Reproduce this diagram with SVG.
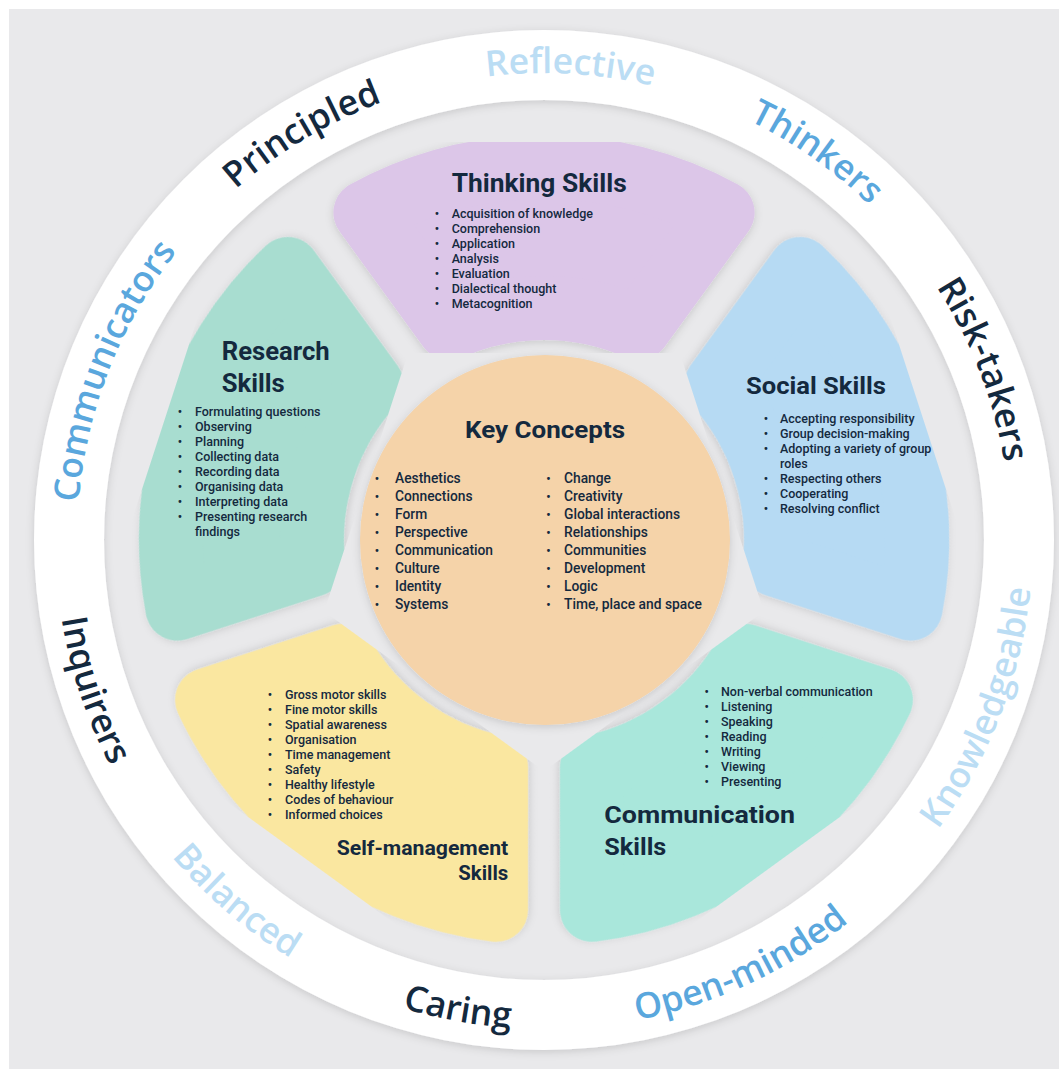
<svg xmlns="http://www.w3.org/2000/svg" width="1059" height="1069" viewBox="0 0 1059 1069">
<defs>
<style>
.tx{font-family:Roboto,"Liberation Sans",sans-serif;fill:#14293E}
.hd{font-weight:700}
.li{font-weight:500;font-size:12.5px}
.kc{font-weight:500;font-size:13.8px}
.bu{font-weight:700;font-size:12px;text-anchor:middle}
.rw{font-family:"Open Sans","Liberation Sans",sans-serif;font-weight:600;font-size:35.5px}
.dark{fill:#14293E}.mid{fill:#5AA7DD}.light{fill:#BBDDF4}
</style>
<filter id="sh" x="-15%" y="-15%" width="130%" height="130%"><feDropShadow dx="0" dy="2" stdDeviation="4" flood-color="#000" flood-opacity="0.14"/></filter>
<path id="petal" d="M449.4 328.15 L365.4 212.54 A373 373 0 0 1 722.6 212.54 L638.6 328.15 A232 232 0 0 0 449.4 328.15 Z" stroke-width="64" stroke-linejoin="round"/>
<path id="topArc" d="M105.2 380.3 A467 467 0 0 1 982.8 380.3" fill="none"/>
<path id="botArc" d="M84.5 707.2 A489 489 0 0 0 1003.5 707.2" fill="none"/>
</defs>
<g id="background">
<rect width="1059" height="1069" fill="#fff"/>
<rect x="9" y="9" width="1050" height="1060" fill="#E9E9EB"/>
</g>
<g id="ring">
<path fill="#fff" fill-rule="evenodd" filter="url(#sh)" d="M34 540 a510 510 0 1 0 1020 0 a510 510 0 1 0 -1020 0 Z M104 540 a440 440 0 1 0 880 0 a440 440 0 1 0 -880 0 Z"/>
</g>
<g id="ring-words" class="rw">
<text class="light" text-anchor="middle" transform="rotate(3.2 544 540)"><textPath href="#topArc" startOffset="50%">Reflective</textPath></text>
<text class="mid" text-anchor="middle" transform="rotate(35.1 544 540)"><textPath href="#topArc" startOffset="50%">Thinkers</textPath></text>
<text class="dark" text-anchor="middle" transform="rotate(68.8 544 540)"><textPath href="#topArc" startOffset="50%">Risk-takers</textPath></text>
<text class="mid" text-anchor="middle" transform="rotate(-68.6 544 540)"><textPath href="#topArc" startOffset="50%">Communicators</textPath></text>
<text class="dark" text-anchor="middle" transform="rotate(-30.8 544 540)"><textPath href="#topArc" startOffset="50%">Principled</textPath></text>
<text class="light" text-anchor="middle" transform="rotate(-69 544 540)"><textPath href="#botArc" startOffset="50%">Knowledgeable</textPath></text>
<text class="mid" text-anchor="middle" transform="rotate(-24.8 544 540)"><textPath href="#botArc" startOffset="50%">Open-minded</textPath></text>
<text class="dark" text-anchor="middle" transform="rotate(10.4 544 540)"><textPath href="#botArc" startOffset="50%">Caring</textPath></text>
<text class="light" text-anchor="middle" transform="rotate(40.4 544 540)"><textPath href="#botArc" startOffset="50%">Balanced</textPath></text>
<text class="dark" text-anchor="middle" transform="rotate(71.6 544 540)"><textPath href="#botArc" startOffset="50%">Inquirers</textPath></text>
</g>
<g id="connectors"/>
<g id="key-concepts">
<circle cx="545" cy="540" r="185" fill="#F5D3A9" filter="url(#sh)"/>
<text class="tx hd" x="465" y="438" font-size="23" textLength="160" lengthAdjust="spacingAndGlyphs">Key Concepts</text>
<g class="tx bu">
<text x="377" y="482.7">•</text><text x="377" y="500.7">•</text><text x="377" y="518.7">•</text><text x="377" y="536.7">•</text><text x="377" y="554.7">•</text><text x="377" y="572.7">•</text><text x="377" y="590.7">•</text><text x="377" y="608.7">•</text>
<text x="548.3" y="482.7">•</text><text x="548.3" y="500.7">•</text><text x="548.3" y="518.7">•</text><text x="548.3" y="536.7">•</text><text x="548.3" y="554.7">•</text><text x="548.3" y="572.7">•</text><text x="548.3" y="590.7">•</text><text x="548.3" y="608.7">•</text>
</g>
<g class="tx kc">
<text x="395" y="482.7">Aesthetics</text><text x="395" y="500.7">Connections</text><text x="395" y="518.7">Form</text><text x="395" y="536.7">Perspective</text><text x="395" y="554.7">Communication</text><text x="395" y="572.7">Culture</text><text x="395" y="590.7">Identity</text><text x="395" y="608.7">Systems</text>
<text x="564" y="482.7">Change</text><text x="564" y="500.7">Creativity</text><text x="564" y="518.7">Global interactions</text><text x="564" y="536.7">Relationships</text><text x="564" y="554.7">Communities</text><text x="564" y="572.7">Development</text><text x="564" y="590.7">Logic</text><text x="564" y="608.7">Time, place and space</text>
</g>
</g>
<g id="thinking-skills">
<use href="#petal" fill="#DCC6E8" stroke="#DCC6E8" filter="url(#sh)"/>
<text class="tx hd" x="451.7" y="192" font-size="25.5" textLength="175" lengthAdjust="spacingAndGlyphs">Thinking Skills</text>
<g class="tx bu">
<text x="437" y="218.3">•</text><text x="437" y="233.3">•</text><text x="437" y="248.3">•</text><text x="437" y="263.3">•</text><text x="437" y="278.3">•</text><text x="437" y="293.3">•</text><text x="437" y="308.3">•</text>
</g>
<g class="tx li">
<text x="451.7" y="218.3">Acquisition of knowledge</text><text x="451.7" y="233.3">Comprehension</text><text x="451.7" y="248.3">Application</text><text x="451.7" y="263.3">Analysis</text><text x="451.7" y="278.3">Evaluation</text><text x="451.7" y="293.3">Dialectical thought</text><text x="451.7" y="308.3">Metacognition</text>
</g>
</g>
<g id="social-skills">
<use href="#petal" fill="#B6DAF3" stroke="#B6DAF3" filter="url(#sh)" transform="rotate(72 544 540)"/>
<text class="tx hd" x="746" y="394" font-size="24.5" textLength="140" lengthAdjust="spacingAndGlyphs">Social Skills</text>
<g class="tx bu">
<text x="766" y="422.7">•</text><text x="766" y="437.7">•</text><text x="766" y="452.7">•</text><text x="766" y="482.7">•</text><text x="766" y="497.7">•</text><text x="766" y="512.7">•</text>
</g>
<g class="tx li">
<text x="780" y="422.7">Accepting responsibility</text><text x="780" y="437.7">Group decision-making</text><text x="780" y="452.7">Adopting a variety of group</text><text x="780" y="467.7">roles</text><text x="780" y="482.7">Respecting others</text><text x="780" y="497.7">Cooperating</text><text x="780" y="512.7">Resolving conflict</text>
</g>
</g>
<g id="communication-skills">
<use href="#petal" fill="#A9E7DB" stroke="#A9E7DB" filter="url(#sh)" transform="rotate(144 544 540)"/>
<g class="tx bu">
<text x="706.7" y="696">•</text><text x="706.7" y="711">•</text><text x="706.7" y="726">•</text><text x="706.7" y="741">•</text><text x="706.7" y="756">•</text><text x="706.7" y="771">•</text><text x="706.7" y="786">•</text>
</g>
<g class="tx li">
<text x="721" y="696">Non-verbal communication</text><text x="721" y="711">Listening</text><text x="721" y="726">Speaking</text><text x="721" y="741">Reading</text><text x="721" y="756">Writing</text><text x="721" y="771">Viewing</text><text x="721" y="786">Presenting</text>
</g>
<text class="tx hd" x="604.3" y="823" font-size="24" textLength="190.7" lengthAdjust="spacingAndGlyphs">Communication</text>
<text class="tx hd" x="604.3" y="855" font-size="24" textLength="62" lengthAdjust="spacingAndGlyphs">Skills</text>
</g>
<g id="self-management-skills">
<use href="#petal" fill="#FAE7A0" stroke="#FAE7A0" filter="url(#sh)" transform="rotate(216 544 540)"/>
<g class="tx bu">
<text x="270" y="699">•</text><text x="270" y="714">•</text><text x="270" y="729">•</text><text x="270" y="744">•</text><text x="270" y="759">•</text><text x="270" y="774">•</text><text x="270" y="789">•</text><text x="270" y="804">•</text><text x="270" y="819">•</text>
</g>
<g class="tx li">
<text x="285" y="699">Gross motor skills</text><text x="285" y="714">Fine motor skills</text><text x="285" y="729">Spatial awareness</text><text x="285" y="744">Organisation</text><text x="285" y="759">Time management</text><text x="285" y="774">Safety</text><text x="285" y="789">Healthy lifestyle</text><text x="285" y="804">Codes of behaviour</text><text x="285" y="819">Informed choices</text>
</g>
<text class="tx hd" x="336.7" y="855" font-size="21" textLength="171.6" lengthAdjust="spacingAndGlyphs">Self-management</text>
<text class="tx hd" x="458.3" y="880" font-size="21" textLength="50" lengthAdjust="spacingAndGlyphs">Skills</text>
</g>
<g id="research-skills">
<use href="#petal" fill="#A8DDD0" stroke="#A8DDD0" filter="url(#sh)" transform="rotate(288 544 540)"/>
<text class="tx hd" x="221.7" y="360" font-size="25.5" textLength="108" lengthAdjust="spacingAndGlyphs">Research</text>
<text class="tx hd" x="221.7" y="392" font-size="25.5" textLength="63" lengthAdjust="spacingAndGlyphs">Skills</text>
<g class="tx bu">
<text x="180" y="416">•</text><text x="180" y="431">•</text><text x="180" y="446">•</text><text x="180" y="461">•</text><text x="180" y="476">•</text><text x="180" y="491">•</text><text x="180" y="506">•</text><text x="180" y="521">•</text>
</g>
<g class="tx li">
<text x="195" y="416">Formulating questions</text><text x="195" y="431">Observing</text><text x="195" y="446">Planning</text><text x="195" y="461">Collecting data</text><text x="195" y="476">Recording data</text><text x="195" y="491">Organising data</text><text x="195" y="506">Interpreting data</text><text x="195" y="521">Presenting research</text><text x="195" y="536">findings</text>
</g>
</g>
</svg>
